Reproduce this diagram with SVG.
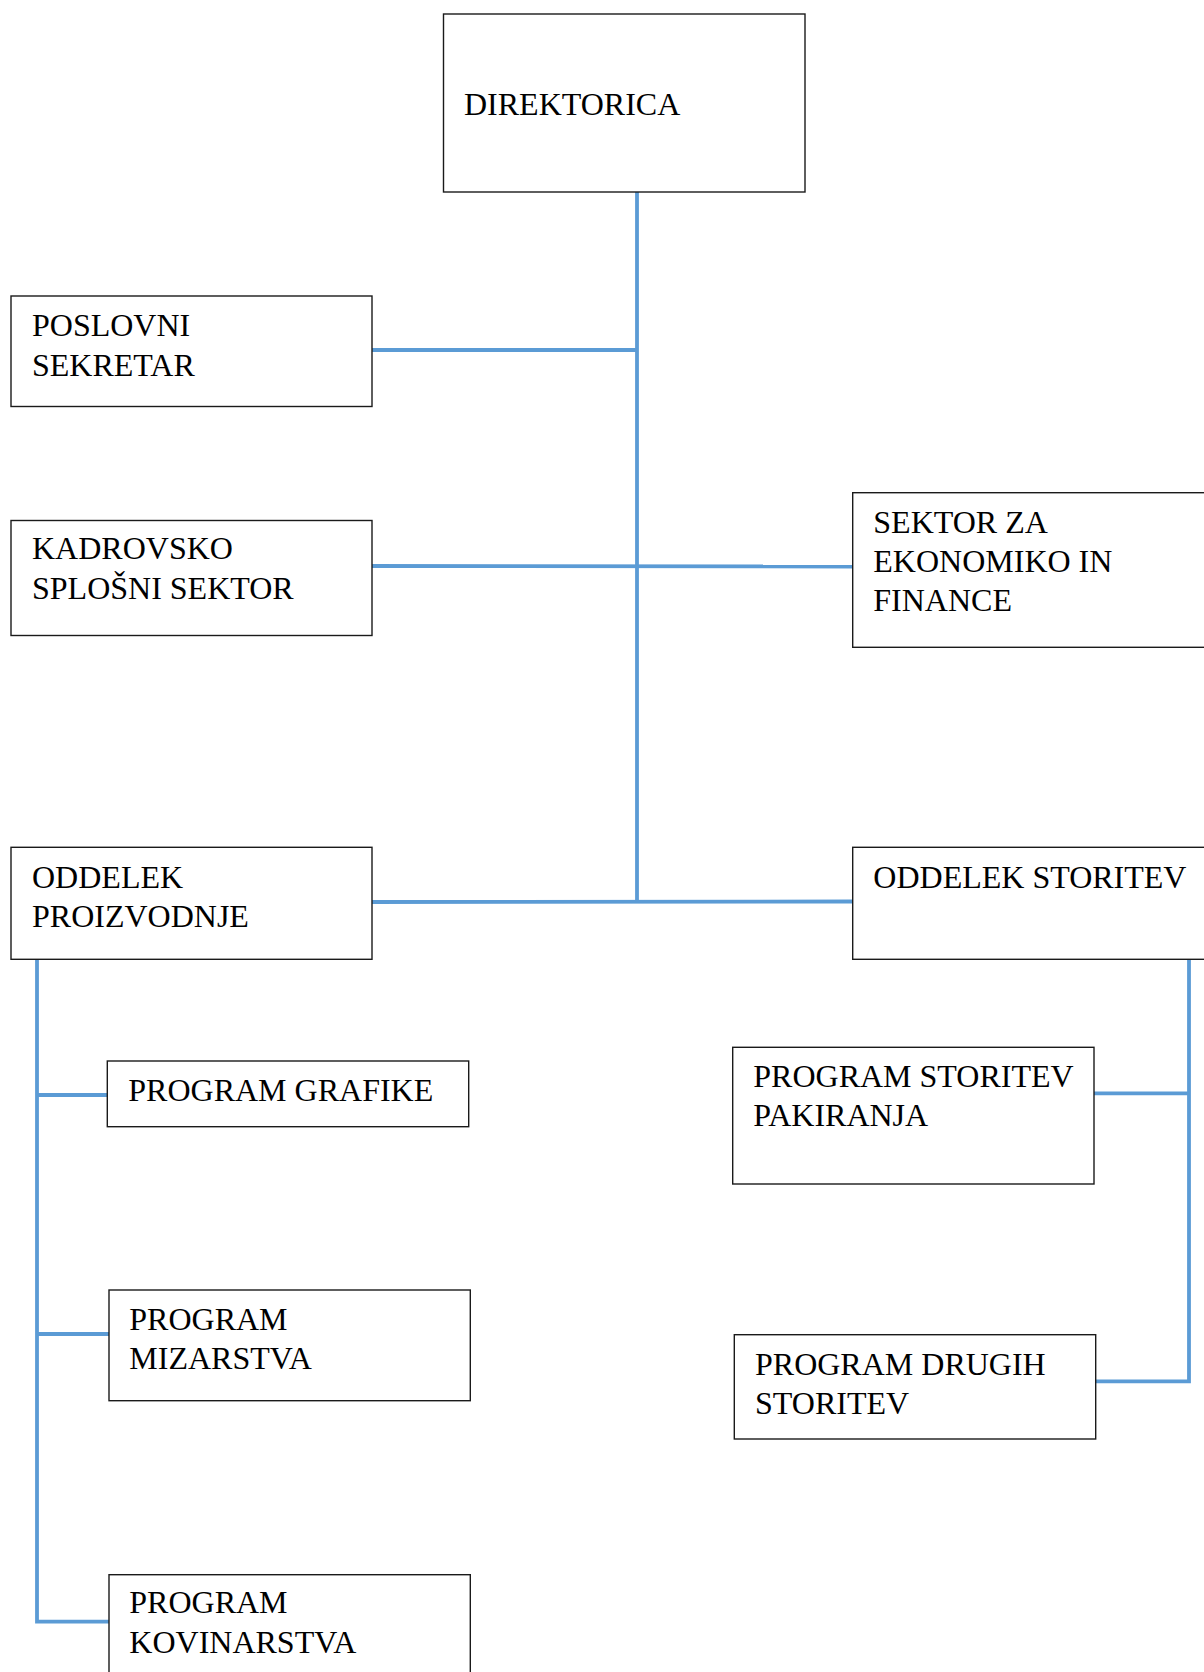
<svg xmlns="http://www.w3.org/2000/svg" width="1204" height="1672" viewBox="0 0 1204 1672">
<style>
.box{fill:#fff;stroke:#1a1a1a;stroke-width:1.4}
.t{font-family:"Liberation Serif","Times New Roman",serif;font-size:32px;fill:#000}
.c{fill:none;stroke:#5B9BD5;stroke-width:3.8}
</style>
<rect width="1204" height="1672" fill="#fff"/>
<g id="connectors">
<line class="c" x1="637" y1="192" x2="637" y2="903"/>
<line class="c" x1="372" y1="350" x2="637" y2="350"/>
<line class="c" x1="372" y1="566" x2="853" y2="566.5"/>
<line class="c" x1="372" y1="902" x2="853" y2="901.5"/>
<polyline class="c" points="37,959 37,1621.7 109,1621.7"/>
<line class="c" x1="37" y1="1095" x2="107" y2="1095"/>
<line class="c" x1="37" y1="1334" x2="109" y2="1334"/>
<polyline class="c" points="1189,959 1189,1381.3 1096,1381.3"/>
<line class="c" x1="1094" y1="1093.3" x2="1189" y2="1093.3"/>
</g>
<g id="direktorica">
<rect class="box" x="443.5" y="14" width="361.5" height="178"/>
<text class="t" x="464" y="115">DIREKTORICA</text>
</g>
<g id="poslovni-sekretar">
<rect class="box" x="11" y="296" width="361" height="110.5"/>
<text class="t" x="32" y="336">POSLOVNI</text>
<text class="t" x="32" y="375.7">SEKRETAR</text>
</g>
<g id="kadrovsko-splosni-sektor">
<rect class="box" x="11" y="520.5" width="361" height="115"/>
<text class="t" x="32" y="559.3">KADROVSKO</text>
<text class="t" x="32" y="599.3">SPLOŠNI SEKTOR</text>
</g>
<g id="sektor-ekonomika">
<rect class="box" x="852.7" y="492.7" width="360" height="154.6"/>
<text class="t" x="873.3" y="532.7">SEKTOR ZA</text>
<text class="t" x="873.3" y="572">EKONOMIKO IN</text>
<text class="t" x="873.3" y="611.3">FINANCE</text>
</g>
<g id="oddelek-proizvodnje">
<rect class="box" x="11" y="847.3" width="361" height="112"/>
<text class="t" x="32" y="887.7">ODDELEK</text>
<text class="t" x="32" y="927.3">PROIZVODNJE</text>
</g>
<g id="oddelek-storitev">
<rect class="box" x="852.7" y="847.3" width="360" height="112"/>
<text class="t" x="873.3" y="887.7">ODDELEK STORITEV</text>
</g>
<g id="program-grafike">
<rect class="box" x="107.3" y="1061" width="361.4" height="65.7"/>
<text class="t" x="128.3" y="1100.7">PROGRAM GRAFIKE</text>
</g>
<g id="program-mizarstva">
<rect class="box" x="109" y="1290" width="361.3" height="110.7"/>
<text class="t" x="129.3" y="1330">PROGRAM</text>
<text class="t" x="129.3" y="1369.3">MIZARSTVA</text>
</g>
<g id="program-kovinarstva">
<rect class="box" x="109" y="1574.7" width="361.3" height="120"/>
<text class="t" x="129.3" y="1613.3">PROGRAM</text>
<text class="t" x="129.3" y="1652.7">KOVINARSTVA</text>
</g>
<g id="program-storitev-pakiranja">
<rect class="box" x="732.7" y="1047.3" width="361.3" height="136.7"/>
<text class="t" x="753.3" y="1086.7">PROGRAM STORITEV</text>
<text class="t" x="753.3" y="1126">PAKIRANJA</text>
</g>
<g id="program-drugih-storitev">
<rect class="box" x="734.3" y="1334.7" width="361.4" height="104.3"/>
<text class="t" x="755" y="1375">PROGRAM DRUGIH</text>
<text class="t" x="755" y="1414">STORITEV</text>
</g>
</svg>
